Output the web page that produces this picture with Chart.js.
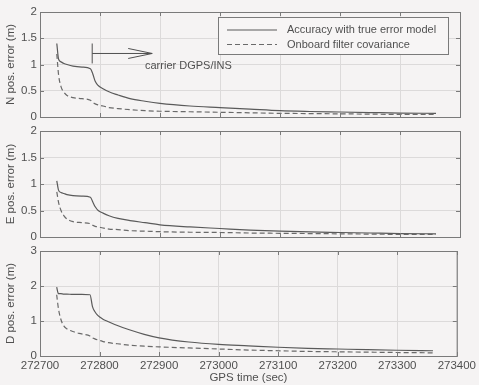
<!DOCTYPE html>
<html>
<head>
<meta charset="utf-8">
<script src="https://cdn.jsdelivr.net/npm/chart.js@4.4.0/dist/chart.umd.min.js"></script>
<style>
body { margin: 0; background: #f5f3f3; }
#wrap { position: relative; width: 479px; height: 385px; }
#wrap canvas { position: absolute; left: 0; top: 0; }
</style>
</head>
<body>
<div id="wrap">
  <canvas id="cN" width="479" height="385"></canvas>
  <canvas id="cE" width="479" height="385"></canvas>
  <canvas id="cD" width="479" height="385"></canvas>
</div>
<script>
// GPS time (sec)
var times = [272728, 272731, 272735, 272740, 272745, 272755, 272770, 272784, 272788, 272792,
             272797, 272805, 272815, 272830, 272850, 272875, 272900, 272950, 273000, 273050,
             273100, 273150, 273200, 273250, 273300, 273360];

var nTrue = [1.40, 1.10, 1.05, 1.02, 1.00, 0.97, 0.95, 0.92, 0.82, 0.68,
             0.60, 0.54, 0.48, 0.42, 0.35, 0.30, 0.26, 0.21, 0.18, 0.15,
             0.12, 0.105, 0.095, 0.085, 0.075, 0.07];
var nCov  = [1.20, 0.80, 0.58, 0.47, 0.41, 0.37, 0.35, 0.32, 0.28, 0.25,
             0.23, 0.21, 0.18, 0.16, 0.14, 0.12, 0.11, 0.10, 0.09, 0.08,
             0.07, 0.065, 0.06, 0.055, 0.05, 0.05];

var eTrue = [1.06, 0.88, 0.84, 0.82, 0.80, 0.78, 0.77, 0.75, 0.66, 0.57,
             0.50, 0.45, 0.40, 0.35, 0.31, 0.27, 0.23, 0.19, 0.16, 0.13,
             0.11, 0.095, 0.085, 0.075, 0.065, 0.06];
var eCov  = [0.85, 0.65, 0.50, 0.40, 0.34, 0.29, 0.27, 0.25, 0.22, 0.20,
             0.19, 0.17, 0.15, 0.14, 0.12, 0.11, 0.10, 0.09, 0.085, 0.075,
             0.07, 0.065, 0.06, 0.055, 0.05, 0.05];

var dTrue = [1.97, 1.78, 1.78, 1.77, 1.77, 1.76, 1.76, 1.75, 1.42, 1.27,
             1.16, 1.06, 0.98, 0.87, 0.75, 0.62, 0.52, 0.40, 0.33, 0.29,
             0.25, 0.22, 0.20, 0.18, 0.165, 0.15];
var dCov  = [1.75, 1.35, 1.05, 0.86, 0.78, 0.70, 0.63, 0.57, 0.52, 0.49,
             0.46, 0.42, 0.38, 0.35, 0.31, 0.28, 0.26, 0.23, 0.20, 0.17,
             0.15, 0.13, 0.12, 0.11, 0.10, 0.09];

var seriesNames = ['Accuracy with true error model', 'Onboard filter covariance'];
var xTicks = [272700, 272800, 272900, 273000, 273100, 273200, 273300, 273400];

var FONT = 'Liberation Sans, Arial, Helvetica, sans-serif';
var INK = '#505050';
var AXIS = '#7a7a7a';
var GRID = '#dcdada';

function pts(ys) {
    return times.map(function(t, i) { return { x: t, y: ys[i] }; });
}

// box around the axes and inward matlab-style ticks
var boxPlugin = {
    id: 'box',
    afterDatasetsDraw: function(chart) {
        var a = chart.chartArea, ctx = chart.ctx;
        var xs = chart.scales.x, ys = chart.scales.y;
        ctx.save();
        ctx.strokeStyle = AXIS;
        ctx.lineWidth = 1;
        ctx.strokeRect(a.left + 0.5, a.top + 0.5, a.right - a.left, a.bottom - a.top);
        ctx.beginPath();
        xs.ticks.forEach(function(tk) {
            var px = Math.round(xs.getPixelForValue(tk.value)) + 0.5;
            ctx.moveTo(px, a.bottom); ctx.lineTo(px, a.bottom - 4);
            ctx.moveTo(px, a.top); ctx.lineTo(px, a.top + 4);
        });
        ys.ticks.forEach(function(tk) {
            var py = Math.round(ys.getPixelForValue(tk.value)) + 0.5;
            ctx.moveTo(a.left, py); ctx.lineTo(a.left + 4, py);
            ctx.moveTo(a.right, py); ctx.lineTo(a.right - 4, py);
        });
        ctx.stroke();
        ctx.restore();
    }
};

// legend box and the carrier DGPS/INS arrow, top panel only
var notePlugin = {
    id: 'note',
    afterDatasetsDraw: function(chart) {
        var xs = chart.scales.x, ys = chart.scales.y, ctx = chart.ctx;
        ctx.save();
        ctx.strokeStyle = INK;
        ctx.lineWidth = 1;
        var x0 = xs.getPixelForValue(272787);
        ctx.beginPath();
        ctx.moveTo(x0, ys.getPixelForValue(1.40));
        ctx.lineTo(x0, ys.getPixelForValue(1.02));
        var yA = ys.getPixelForValue(1.21);
        var x1 = xs.getPixelForValue(272887);
        ctx.moveTo(x0, yA); ctx.lineTo(x1, yA);
        ctx.moveTo(x1 - 24, yA - 5); ctx.lineTo(x1, yA); ctx.lineTo(x1 - 24, yA + 5);
        ctx.stroke();
        ctx.fillStyle = INK;
        ctx.font = '11px ' + FONT;
        ctx.textBaseline = 'middle';
        ctx.fillText('carrier DGPS/INS', xs.getPixelForValue(272875), ys.getPixelForValue(0.98));

        // legend
        var L = 218, T = 17, W = 230, H = 37;
        ctx.fillStyle = '#f7f5f5';
        ctx.fillRect(L, T, W, H);
        ctx.strokeStyle = AXIS;
        ctx.strokeRect(L + 0.5, T + 0.5, W, H);
        chart.data.datasets.forEach(function(ds, i) {
            var yy = T + 13 + i * 14.5;
            ctx.beginPath();
            ctx.strokeStyle = ds.borderColor;
            ctx.lineWidth = ds.borderWidth;
            ctx.setLineDash(ds.borderDash || []);
            ctx.moveTo(L + 9, yy); ctx.lineTo(L + 59, yy);
            ctx.stroke();
            ctx.setLineDash([]);
            ctx.fillStyle = INK;
            ctx.fillText(ds.label, L + 69, yy);
        });
        ctx.restore();
    }
};

function fmt(v) {
    return String(Math.round(v * 10) / 10);
}

function makePanel(id, trueVals, covVals, yMax, yStep, yTitle, top, bottom, last) {
    var xh = last ? 29 : 0;
    var plugins = [boxPlugin];
    if (id === 'cN') plugins.push(notePlugin);
    return new Chart(document.getElementById(id), {
        type: 'line',
        data: {
            datasets: [{
                label: seriesNames[0],
                data: pts(trueVals),
                borderColor: '#5a5a5a',
                borderWidth: 1.2,
                pointRadius: 0,
                cubicInterpolationMode: 'monotone'
            }, {
                label: seriesNames[1],
                data: pts(covVals),
                borderColor: '#6a6a6a',
                borderWidth: 1.2,
                borderDash: [5, 3],
                pointRadius: 0,
                cubicInterpolationMode: 'monotone'
            }]
        },
        options: {
            responsive: false,
            animation: false,
            events: [],
            layout: { padding: { left: 0, right: 19, top: top, bottom: 385 - bottom - xh } },
            plugins: { legend: { display: false }, tooltip: { enabled: false } },
            scales: {
                x: {
                    type: 'linear',
                    min: 272700,
                    max: 273400,
                    afterBuildTicks: function(s) { s.ticks = xTicks.map(function(v) { return { value: v }; }); },
                    afterFit: function(s) { s.height = xh; },
                    grid: { color: GRID, borderDash: [1, 3], drawTicks: false },
                    border: { display: false },
                    ticks: {
                        display: last,
                        padding: 3,
                        color: INK,
                        font: { family: FONT, size: 11.5 },
                        callback: function(v) { return String(v); }
                    },
                    title: {
                        display: last,
                        text: 'GPS time (sec)',
                        color: INK,
                        padding: { top: 0, bottom: 0 },
                        font: { family: FONT, size: 11.5 }
                    }
                },
                y: {
                    min: 0,
                    max: yMax,
                    afterFit: function(s) { s.width = 40; },
                    grid: { color: GRID, borderDash: [1, 3], drawTicks: false },
                    border: { display: false },
                    ticks: {
                        stepSize: yStep,
                        padding: 3,
                        color: INK,
                        font: { family: FONT, size: 11.5 },
                        callback: fmt
                    },
                    title: {
                        display: true,
                        text: yTitle,
                        color: INK,
                        padding: { top: 4, bottom: 0 },
                        font: { family: FONT, size: 11.5 }
                    }
                }
            }
        },
        plugins: plugins
    });
}

makePanel('cN', nTrue, nCov, 2, 0.5, 'N pos. error (m)', 12, 117, false);
makePanel('cE', eTrue, eCov, 2, 0.5, 'E pos. error (m)', 131, 237, false);
makePanel('cD', dTrue, dCov, 3, 1, 'D pos. error (m)', 251, 356, true);
</script>
</body>
</html>
